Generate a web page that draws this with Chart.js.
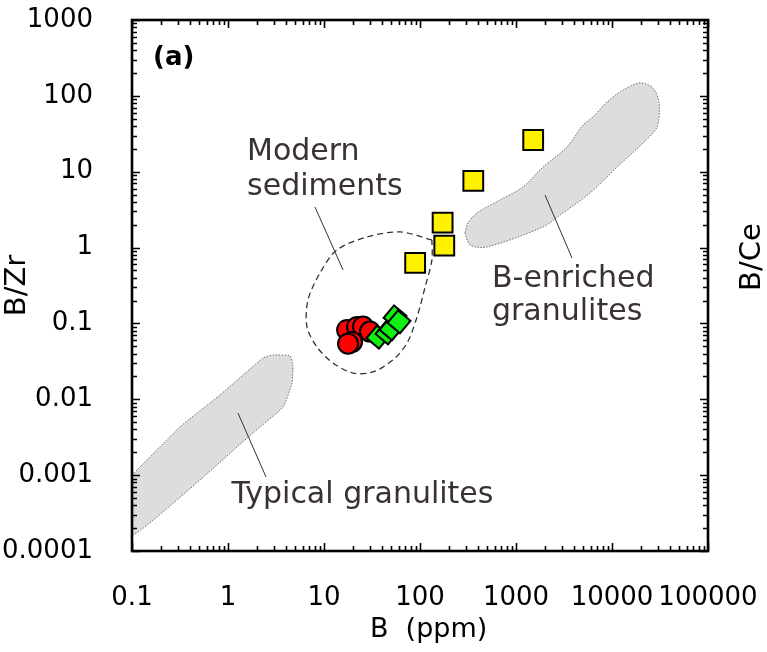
<!DOCTYPE html>
<html>
<head>
<meta charset="utf-8">
<script src="https://cdn.jsdelivr.net/npm/chart.js@4.4.1/dist/chart.umd.min.js"></script>
<style>
  html, body { margin: 0; padding: 0; background: #fff; }
</style>
</head>
<body>
<canvas id="chart" width="767" height="652"></canvas>
<script>
// axis ticks (decades)
var xTicks = [0.1, 1, 10, 100, 1000, 10000, 100000];
var yTicks = [0.0001, 0.001, 0.01, 0.1, 1, 10, 100, 1000];

// samples: B (ppm) against B/Zr
var redB     = [17.4, 22.1, 25.5, 30.1, 19.6, 17.8];
var redBZr   = [0.082, 0.090, 0.091, 0.078, 0.057, 0.054];
var greenB   = [36.5, 45.3, 49.9, 55.0, 60.4];
var greenBZr = [0.066, 0.075, 0.085, 0.122, 0.105];
var yellowB   = [89, 172, 179, 359, 1510];
var yellowBZr = [0.63, 2.13, 1.06, 7.55, 26.2];

// field outlines
var typicalB   = [0.1, 0.316, 0.825, 2.32, 2.94, 4.43, 4.75, 4.64, 3.74, 1.82, 0.511, 0.182, 0.1, 0.1];
var typicalBZr = [0.001, 0.00432, 0.0114, 0.035, 0.0384, 0.0372, 0.0275, 0.0164, 0.0079, 0.0036, 0.000863, 0.00028, 0.000163, 0.001];
var enrichedB   = [294, 332, 499, 1911, 2873, 5900, 11270, 21000, 29400, 30900, 26700, 19600, 13000, 8870, 6340, 4990, 3400, 1911, 1183, 681, 392, 316, 294];
var enrichedBZr = [1.56, 1.08, 1.02, 1.87, 2.68, 5.24, 11.5, 23.9, 38.8, 80.6, 127, 148, 119, 83, 52.6, 41.3, 21.2, 11.5, 6.3, 4.24, 2.86, 2.11, 1.56];
var modernB   = [133, 61.9, 28.1, 13.6, 9.08, 6.81, 6.65, 8.45, 12.4, 20.0, 32.4, 52.3, 73.3, 93.1, 113, 133, 133];
var modernBZr = [1.26, 1.61, 1.38, 0.929, 0.462, 0.204, 0.0897, 0.0489, 0.0301, 0.0222, 0.0229, 0.033, 0.0552, 0.1216, 0.302, 0.685, 1.26];

// leader lines from labels into fields
var modernLeadB = [8.05, 15.8],  modernLeadBZr = [3.43, 0.506];
var enrichLeadB = [2005, 3830],  enrichLeadBZr = [4.93, 0.729];
var typicLeadB  = [1.27, 2.49],  typicLeadBZr  = [0.00659, 0.000946];

// text labels, anchored in data units (left, baseline)
var notes = [
  { text: 'Modern',     b: 1.58,  bzr: 14.3 },
  { text: 'sediments',  b: 1.58,  bzr: 4.93 },
  { text: 'B-enriched', b: 562,   bzr: 0.302 },
  { text: 'granulites', b: 562,   bzr: 0.111 },
  { text: 'Typical granulites', b: 1.09, bzr: 0.000426 }
];

function pts(xs, ys) {
  return xs.map(function (x, i) { return { x: x, y: ys[i] }; });
}

var FONT = "'DejaVu Sans', sans-serif";
var TEXT = '#3a3232';

function minorsOf(list) {
  var out = [];
  for (var i = 0; i < list.length - 1; i++) {
    for (var k = 2; k <= 9; k++) out.push(list[i] * k);
  }
  return out;
}

var framePlugin = {
  id: 'frame',
  afterDatasetsDraw: function (chart) {
    var ctx = chart.ctx, a = chart.chartArea;
    var xs = chart.scales.x, ys = chart.scales.y;
    ctx.save();
    ctx.strokeStyle = '#000';

    // ticks pointing inward on all four sides
    ctx.lineWidth = 1.6;
    ctx.beginPath();
    function xTick(v, len) {
      var px = Math.round(xs.getPixelForValue(v)) + 0.5;
      ctx.moveTo(px, a.bottom); ctx.lineTo(px, a.bottom - len);
      ctx.moveTo(px, a.top); ctx.lineTo(px, a.top + len);
    }
    function yTick(v, len) {
      var py = Math.round(ys.getPixelForValue(v)) + 0.5;
      ctx.moveTo(a.left, py); ctx.lineTo(a.left + len, py);
      ctx.moveTo(a.right, py); ctx.lineTo(a.right - len, py);
    }
    xTicks.forEach(function (v) { xTick(v, 8); });
    minorsOf(xTicks).forEach(function (v) { xTick(v, 5); });
    yTicks.forEach(function (v) { yTick(v, 8); });
    minorsOf(yTicks).forEach(function (v) { yTick(v, 5); });
    ctx.stroke();

    // frame
    ctx.lineWidth = 2.6;
    ctx.strokeRect(a.left, a.top, a.right - a.left, a.bottom - a.top);

    // panel tag
    ctx.fillStyle = '#000';
    ctx.font = 'bold 26px ' + FONT;
    ctx.textAlign = 'left';
    ctx.textBaseline = 'alphabetic';
    ctx.fillText('(a)', a.left + 21, a.top + 45);

    // field labels
    ctx.fillStyle = TEXT;
    ctx.font = '30px ' + FONT;
    notes.forEach(function (n) {
      ctx.fillText(n.text, xs.getPixelForValue(n.b), ys.getPixelForValue(n.bzr));
    });

    // right-hand axis title
    ctx.fillStyle = '#000';
    ctx.font = '29px ' + FONT;
    ctx.translate(752, 257);
    ctx.rotate(-Math.PI / 2);
    ctx.textAlign = 'center';
    ctx.textBaseline = 'middle';
    ctx.fillText('B/Ce', 0, 0);
    ctx.restore();
  }
};

var outline = function (label, xsArr, ysArr, extra) {
  var ds = {
    type: 'line', label: label, data: pts(xsArr, ysArr),
    pointRadius: 0, borderWidth: 1, tension: 0.3, order: 5
  };
  for (var k in extra) ds[k] = extra[k];
  return ds;
};

var ctx = document.getElementById('chart').getContext('2d');
var myChart = new Chart(ctx, {
  type: 'scatter',
  data: {
    datasets: [
      outline('Typical granulites', typicalB, typicalBZr, {
        fill: 'shape', backgroundColor: '#dcdddd', borderColor: '#6e6e6e',
        borderDash: [1.5, 1.5], tension: 0.15, order: 6
      }),
      outline('B-enriched granulites', enrichedB, enrichedBZr, {
        fill: 'shape', backgroundColor: '#dcdddd', borderColor: '#6e6e6e',
        borderDash: [1.5, 1.5], order: 6
      }),
      outline('Modern sediments', modernB, modernBZr, {
        fill: false, borderColor: '#333', borderWidth: 1.3, borderDash: [6, 4]
      }),
      outline('lead1', modernLeadB, modernLeadBZr, { borderColor: '#333', tension: 0 }),
      outline('lead2', enrichLeadB, enrichLeadBZr, { borderColor: '#333', tension: 0 }),
      outline('lead3', typicLeadB, typicLeadBZr, { borderColor: '#333', tension: 0 }),
      {
        label: 'red', data: pts(redB, redBZr), order: 3,
        pointStyle: 'circle', pointRadius: 10, borderWidth: 2,
        backgroundColor: '#ff0000', borderColor: '#000'
      },
      {
        label: 'green', data: pts(greenB, greenBZr), order: 2,
        pointStyle: 'rect', rotation: 40, pointRadius: 11.5, borderWidth: 2,
        backgroundColor: '#11ee11', borderColor: '#000'
      },
      {
        label: 'yellow', data: pts(yellowB, yellowBZr), order: 1,
        pointStyle: 'rect', pointRadius: 14, borderWidth: 2,
        backgroundColor: '#fff200', borderColor: '#000'
      }
    ]
  },
  options: {
    responsive: false,
    animation: false,
    devicePixelRatio: 1,
    layout: { padding: { top: 20, right: 59, left: 0, bottom: 0 } },
    plugins: { legend: { display: false }, tooltip: { enabled: false } },
    scales: {
      x: {
        type: 'logarithmic', position: 'bottom', min: 0.1, max: 100000,
        grid: { display: false }, border: { display: false },
        afterBuildTicks: function (s) { s.ticks = xTicks.map(function (v) { return { value: v }; }); },
        afterFit: function (s) {
          s.height = 101;
          s.paddingLeft = 0; s.paddingRight = 0; s.paddingTop = 0; s.paddingBottom = 0;
        },
        ticks: {
          autoSkip: false, maxRotation: 0, padding: 24, color: '#000',
          font: { family: FONT, size: 26 },
          callback: function (v) { return String(v); }
        },
        title: {
          display: true, text: '  B  (ppm)', color: '#000',
          font: { family: FONT, size: 27 }, padding: { top: 0, bottom: 6 }
        }
      },
      y: {
        type: 'logarithmic', position: 'left', min: 0.0001, max: 1000,
        grid: { display: false }, border: { display: false },
        afterBuildTicks: function (s) { s.ticks = yTicks.map(function (v) { return { value: v }; }); },
        afterFit: function (s) {
          s.width = 132;
          s.paddingLeft = 0; s.paddingRight = 0; s.paddingTop = 0; s.paddingBottom = 0;
        },
        ticks: {
          autoSkip: false, padding: 31, color: '#000',
          font: { family: FONT, size: 26 },
          callback: function (v) { return String(v); }
        },
        title: {
          display: true, text: 'B/Zr', color: '#000',
          font: { family: FONT, size: 29 }, padding: { top: 0, bottom: 0 }
        }
      }
    }
  },
  plugins: [framePlugin]
});
</script>
</body>
</html>
